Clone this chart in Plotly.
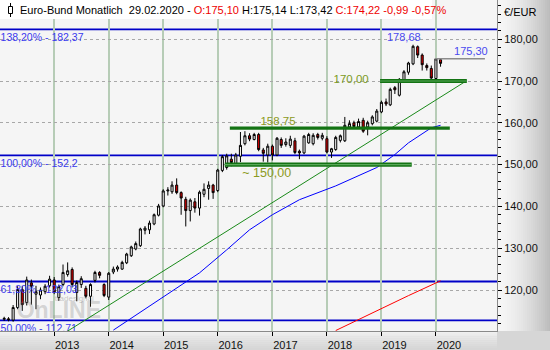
import plotly.graph_objects as go
import pandas as pd

W, H = 550, 350
MR, MB = 53, 19
PW, PH = W - MR, H - MB  # plot area size in px

# ---------------- data ----------------
opens = [113.0, 113.1, 112.8, 115.8, 120.1, 117.0, 121.7, 119.0, 118.8, 119.6, 121.0,
         122.4, 118.2, 121.3, 123.7, 124.9, 119.4, 121.3, 120.4, 118.5, 122.3, 124.2, 121.3,
         118.3, 124.3, 125.0, 125.0, 126.5, 128.2, 129.8, 130.6, 134.3, 134.4, 135.8, 137.9,
         140.1, 143.7, 143.5, 145.1, 143.3, 141.7, 139.0, 141.1, 139.6, 142.9, 144.3, 145.1,
         143.8, 148.6, 149.3, 151.3, 150.0, 152.0, 155.0, 156.9, 156.0, 157.2, 153.5, 152.3,
         154.4, 152.3, 156.0, 154.8, 154.6, 155.7, 153.2, 152.8, 155.2, 155.0, 157.2, 156.3,
         156.2, 153.0, 153.6, 155.8, 155.7, 159.0, 160.0, 159.0, 160.6, 159.0, 159.8, 160.4,
         162.6, 165.0, 164.3, 168.4, 166.6, 170.1, 172.1, 174.1, 178.2, 176.2, 173.7, 173.0,
         170.6, 175.10]
highs = [113.6, 113.5, 116.4, 120.9, 121.0, 123.2, 122.5, 121.0, 120.6, 121.4, 123.4,
         123.1, 121.3, 126.1, 126.6, 125.4, 122.3, 123.3, 121.0, 121.6, 124.6, 124.5, 121.6,
         124.3, 125.6, 125.9, 127.0, 128.9, 130.6, 131.6, 134.9, 135.3, 136.6, 138.3, 140.6,
         144.1, 144.6, 146.0, 146.7, 143.6, 142.3, 141.9, 142.0, 143.8, 145.5, 146.0, 145.4,
         149.0, 152.3, 152.6, 152.6, 152.8, 157.8, 158.0, 157.5, 157.6, 157.6, 154.0, 155.0,
         154.8, 156.6, 156.5, 156.3, 156.9, 156.4, 153.6, 157.1, 157.6, 157.5, 157.6, 157.6,
         156.8, 154.0, 156.9, 157.2, 161.4, 160.6, 160.5, 161.0, 161.2, 160.5, 161.8, 163.3,
         165.3, 165.8, 168.4, 168.8, 170.7, 172.6, 174.6, 178.68, 178.5, 176.6, 174.2, 173.7,
         175.3, 175.14]
lows = [112.6, 112.5, 112.4, 115.4, 115.0, 116.3, 116.5, 115.4, 117.8, 119.0, 120.6,
        119.0, 117.4, 120.9, 123.2, 120.6, 117.3, 120.5, 118.0, 116.0, 121.8, 122.8, 118.3,
        117.6, 123.8, 124.4, 124.8, 126.2, 127.9, 129.5, 130.3, 133.3, 133.4, 135.5, 137.6,
        139.8, 142.6, 143.0, 142.9, 138.0, 135.2, 136.4, 138.5, 137.8, 142.2, 141.6, 141.8,
        143.4, 148.2, 148.8, 149.6, 149.8, 150.6, 154.6, 155.6, 155.8, 153.2, 150.7, 150.5,
        151.0, 152.0, 154.0, 154.3, 154.0, 152.5, 151.3, 152.5, 155.0, 154.6, 156.0, 155.8,
        152.7, 151.6, 153.3, 155.3, 155.4, 158.6, 158.7, 158.6, 157.6, 157.0, 159.4, 160.1,
        162.3, 164.0, 164.0, 166.9, 166.3, 169.8, 171.5, 173.8, 175.5, 172.5, 172.5, 170.3,
        170.0, 173.42]
closes = [113.2, 112.9, 115.8, 120.1, 116.5, 122.4, 120.9, 119.6, 120.0, 120.9, 122.6,
          119.5, 120.8, 124.2, 124.6, 121.3, 121.8, 122.7, 118.5, 121.3, 124.2, 123.5, 118.7,
          124.0, 125.0, 125.5, 126.6, 128.6, 130.3, 131.1, 134.6, 134.8, 136.0, 138.0, 140.1,
          143.7, 143.9, 145.1, 143.3, 142.0, 139.0, 141.5, 139.6, 143.4, 144.1, 145.1, 143.3,
          148.7, 151.9, 152.1, 150.5, 152.3, 154.6, 156.9, 156.1, 157.2, 153.6, 152.7, 154.4,
          152.3, 156.3, 154.6, 155.4, 156.1, 152.9, 152.8, 156.8, 157.2, 157.0, 156.5, 157.0,
          153.0, 153.8, 156.5, 156.9, 159.4, 159.8, 159.1, 160.3, 158.0, 160.0, 161.4, 162.8,
          164.9, 164.5, 168.0, 167.9, 170.4, 172.2, 174.3, 178.3, 176.2, 173.9, 173.2, 170.7,
          175.3, 174.22]
months = pd.date_range("2012-02-01", periods=len(closes), freq="MS")

year_ticks = ["2013-01-01", "2014-01-01", "2015-01-01", "2016-01-01",
              "2017-01-01", "2018-01-01", "2019-01-01", "2020-01-01"]
year_labels = ["2013", "2014", "2015", "2016", "2017", "2018", "2019", "2020"]

fib_levels = [182.37, 152.2, 122.03, 112.71]
fib_labels = ["138,20% - 182,37", "100,00% - 152,2", "61,80% - 122,03", "50,00% - 112,71"]

zone_levels = [158.75, 150.00, 170.00]
zone_start = ["2016-03-22", "2016-02-17", "2018-12-23"]
zone_end = ["2020-04-03", "2019-07-23", "2020-07-26"]
zone_labels = ["158,75", "~ 150,00", "170,00"]

trend_x = ["2013-02-10", "2020-07-26"]
trend_y = [109.05, 170.1]

ma_x = ["2014-02-01", "2014-12-01", "2015-09-01", "2016-03-01", "2016-08-01", "2017-01-01",
        "2017-07-01", "2018-03-01", "2018-12-01", "2019-04-01", "2019-07-01", "2019-12-01",
        "2020-02-01"]
ma_y = [110.4, 117.6, 124.1, 129.6, 134.4, 138.0, 141.6, 144.9, 149.3, 152.4, 155.2, 158.8, 159.4]

red_x = ["2018-03-01", "2018-12-01", "2019-07-01", "2020-02-01"]
red_y = [110.3, 115.1, 118.65, 122.2]

last_level = 175.30
last_x = ["2019-12-25", "2020-11-24"]
peak_level = 178.68

x_range = ["2012-01-04", "2021-02-13"]
y_range = [110.19, 189.38]

FONT = "Liberation Sans"
fig = go.Figure()

# fib lines (full width)
for lv in fib_levels:
    fig.add_shape(type="line", xref="paper", x0=0, x1=1, yref="y", y0=lv, y1=lv,
                  line=dict(color="#0000c8", width=1.8), layer="between")

# fib labels (clipped by plot area)
fig.add_trace(go.Scatter(
    x=["2012-01-08"] * len(fib_levels), y=[v - 2.2 for v in fib_levels],
    text=fib_labels, mode="text", textposition="middle right",
    textfont=dict(family=FONT, size=10.5, color="#3a3aee"),
    hoverinfo="skip", showlegend=False, cliponaxis=True))

# watermark
fig.add_trace(go.Scatter(
    x=["2013-02-01"], y=[114.6], text=["<b>OnLINE</b>"], mode="text",
    textposition="middle center",
    textfont=dict(family=FONT, size=23, color="rgba(130,130,130,0.3)"),
    hoverinfo="skip", showlegend=False))
fig.add_trace(go.Scatter(
    x=["2013-05-15"], y=[117.9], text=["tradesignal"], mode="text",
    textposition="middle center",
    textfont=dict(family=FONT, size=8, color="rgba(120,120,120,0.4)"),
    hoverinfo="skip", showlegend=False))

# trend line
fig.add_trace(go.Scatter(x=trend_x, y=trend_y, mode="lines",
                         line=dict(color="#1a8a1a", width=1), hoverinfo="skip",
                         showlegend=False))
# moving averages
fig.add_trace(go.Scatter(x=ma_x, y=ma_y, mode="lines", line=dict(color="#0000ff", width=1),
                         hoverinfo="skip", showlegend=False))
fig.add_trace(go.Scatter(x=red_x, y=red_y, mode="lines", line=dict(color="#ff0000", width=1),
                         hoverinfo="skip", showlegend=False))

# green zones
zone_w = [3.2, 4.2, 4.2]
zone_inner = [0, 1.2, 1.2]
for lv, x0, x1, w, wi in zip(zone_levels, zone_start, zone_end, zone_w, zone_inner):
    fig.add_trace(go.Scatter(x=[x0, x1], y=[lv, lv], mode="lines",
                             line=dict(color="#137313", width=w), hoverinfo="skip",
                             showlegend=False))
    if wi:
        fig.add_trace(go.Scatter(x=[x0, x1], y=[lv, lv], mode="lines",
                                 line=dict(color="#5aa85a", width=wi), hoverinfo="skip",
                                 showlegend=False))

# last close line
fig.add_trace(go.Scatter(x=last_x, y=[last_level, last_level], mode="lines",
                         line=dict(color="#8c8c8c", width=1.5), hoverinfo="skip",
                         showlegend=False))

# candles
fig.add_trace(go.Candlestick(
    x=months, open=opens, high=highs, low=lows, close=closes,
    increasing=dict(fillcolor="#ffffff", line=dict(color="#000000", width=1)),
    decreasing=dict(fillcolor="#e00000", line=dict(color="#000000", width=1)),
    whiskerwidth=0, showlegend=False, hoverinfo="skip"))

# zone / level labels
lab_x = ["2017-02-08", "2016-11-24", "2018-06-12", "2020-08-22", "2019-05-31"]
lab_y = [zone_levels[0] + 1.3, zone_levels[1] - 2.13, zone_levels[2] + 0.2,
         last_level + 1.7, peak_level + 1.6]
lab_t = [zone_labels[0], zone_labels[1], zone_labels[2],
         f"{last_level:.2f}".replace(".", ","), f"{peak_level:.2f}".replace(".", ",")]
lab_c = ["#8c9a22", "#8c9a22", "#7c9a22", "#4a4af0", "#4a4af0"]
lab_s = [11.5, 12.5, 11.5, 11, 11]
for x, y, t, c, s in zip(lab_x, lab_y, lab_t, lab_c, lab_s):
    fig.add_trace(go.Scatter(x=[x], y=[y], text=[t], mode="text", textposition="middle center",
                             textfont=dict(family=FONT, size=s, color=c),
                             hoverinfo="skip", showlegend=False))

# ---------------- decorations ----------------
def px_x(p):
    return p / PW

def px_y(p):
    return 1 - p / PH

# right axis gradient
N = 27
for i in range(N):
    t = i / (N - 1)
    g = int(246 - 58 * t ** 1.6)
    fig.add_shape(type="rect", xref="paper", yref="paper",
                  x0=px_x(PW + i * 2), x1=px_x(PW + i * 2 + 2.2), y0=px_y(PH), y1=px_y(0),
                  fillcolor=f"rgb({g},{g},{g})", line=dict(width=0), layer="below")
# bottom strip gradient
for i in range(10):
    t = i / 9
    g = int(240 - 26 * t)
    fig.add_shape(type="rect", xref="paper", yref="paper",
                  x0=0, x1=1, y0=px_y(PH + i * 1.9), y1=px_y(PH + i * 1.9 + 2.0),
                  fillcolor=f"rgb({g},{g},{g})", line=dict(width=0), layer="below")
fig.add_shape(type="rect", xref="paper", yref="paper",
              x0=px_x(PW), x1=px_x(W), y0=px_y(H), y1=px_y(PH + 1),
              fillcolor="#d6d6d6", line=dict(width=0), layer="below")

# header box
fig.add_shape(type="rect", xref="paper", yref="paper",
              x0=0, x1=px_x(432), y0=px_y(19), y1=px_y(0),
              fillcolor="#ffffff", line=dict(width=0), layer="above")
# candle icon
fig.add_shape(type="line", xref="paper", yref="paper", x0=px_x(10.5), x1=px_x(10.5),
              y0=px_y(3), y1=px_y(17), line=dict(color="#000", width=1), layer="above")
fig.add_shape(type="rect", xref="paper", yref="paper", x0=px_x(8.5), x1=px_x(12.5),
              y0=px_y(13.5), y1=px_y(6.5), fillcolor="#ffffff",
              line=dict(color="#000", width=1), layer="above")

header = ("Euro-Bund Monatlich&nbsp;&nbsp;29.02.2020 - "
          "<span style='color:#ee0000'>O:175,10</span> H:175,14 L:173,42 "
          "<span style='color:#ee0000'>C:174,22 -0,99 -0,57%</span>")
fig.add_annotation(text=header, xref="paper", yref="paper", x=px_x(18), y=px_y(10),
                   xanchor="left", yanchor="middle", showarrow=False,
                   font=dict(family=FONT, size=11, color="#000"))
fig.add_annotation(text="€/EUR", xref="paper", yref="paper", x=px_x(PW + 5), y=px_y(12),
                   xanchor="left", yanchor="middle", showarrow=False,
                   font=dict(family=FONT, size=11, color="#000"))

fig.update_layout(
    width=W, height=H, margin=dict(l=0, r=MR, t=0, b=MB, pad=0),
    paper_bgcolor="#d6d6d6", plot_bgcolor="#f5f5f5",
    separators=",.", showlegend=False, hovermode=False,
    xaxis=dict(type="date", range=x_range, rangeslider=dict(visible=False),
               tickmode="array", tickvals=year_ticks, ticktext=year_labels,
               ticks="outside", ticklen=4, tickcolor="#000", ticklabelshift=13,
               tickfont=dict(family=FONT, size=11, color="#111"),
               showgrid=True, gridcolor="rgb(182,204,182)", gridwidth=1.5,
               showline=True, linecolor="#8a8a8a", linewidth=1, fixedrange=True),
    yaxis=dict(side="right", range=y_range, dtick=10, tick0=0, tickformat=".2f",
               ticks="outside", ticklen=4, tickcolor="#000",
               tickfont=dict(family=FONT, size=11, color="#111"),
               showgrid=True, gridcolor="#a8a8a8", griddash="dot", gridwidth=1,
               minor=dict(dtick=2, ticks="outside", ticklen=3, tickcolor="#000", showgrid=False),
               showline=True, linecolor="#8a8a8a", linewidth=1, zeroline=False, fixedrange=True),
)

fig.write_html("out.html")
